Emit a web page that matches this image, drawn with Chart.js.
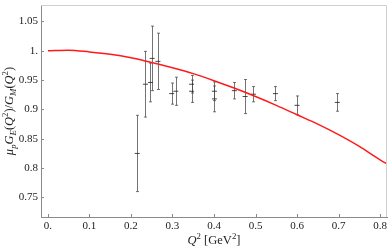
<!DOCTYPE html>
<html>
<head>
<meta charset="utf-8">
<script src="https://cdn.jsdelivr.net/npm/chart.js@4/dist/chart.umd.min.js"></script>
<style>
  html, body { margin: 0; padding: 0; background: #fff; }
  #wrap { width: 392px; height: 250px; }
</style>
</head>
<body>
<div id="wrap"><canvas id="ratioChart"></canvas></div>
<script>
// measured points (Q^2 in GeV^2, mu_p GE/GM, error)
const q2Values    = [0.215, 0.235, 0.247, 0.251, 0.265, 0.298, 0.308, 0.346, 0.346, 0.401, 0.401, 0.449, 0.475, 0.495, 0.548, 0.600, 0.697];
const ratioValues = [0.825, 0.943, 0.946, 0.987, 0.982, 0.927, 0.931, 0.943, 0.931, 0.931, 0.918, 0.932, 0.922, 0.926, 0.927, 0.907, 0.912];
const ratioErrors = [0.065, 0.056, 0.033, 0.055, 0.048, 0.018, 0.024, 0.015, 0.019, 0.016, 0.022, 0.014, 0.029, 0.013, 0.012, 0.016, 0.015];

// model curve
const curveQ2    = [0, 0.05, 0.1, 0.15, 0.2, 0.25, 0.3, 0.35, 0.4, 0.45, 0.5, 0.55, 0.6, 0.65, 0.7, 0.75, 0.8, 0.817];
const curveRatio = [1.000, 1.001, 0.998, 0.994, 0.988, 0.980, 0.971, 0.961, 0.949, 0.936, 0.922, 0.907, 0.891, 0.875, 0.857, 0.837, 0.814, 0.807];

// axis ticks
const xTickValues = [0, 0.1, 0.2, 0.3, 0.4, 0.5, 0.6, 0.7, 0.8];
const xTickLabels = ['0.', '0.1', '0.2', '0.3', '0.4', '0.5', '0.6', '0.7', '0.8'];
const yTickValues = [0.75, 0.8, 0.85, 0.9, 0.95, 1.0, 1.05];
const yTickLabels = ['0.75', '0.8', '0.85', '0.9', '0.95', '1.', '1.05'];

const serif = "'Liberation Serif', 'DejaVu Serif', serif";
const axisColor = '#8a8a8a';
const barColor = 'rgba(70,70,70,0.75)';

const yTitleParts = [
  { t: 'μ', i: true }, { t: 'p', i: true, s: 'sub' },
  { t: 'G', i: true }, { t: 'E', i: true, s: 'sub' },
  { t: '(' }, { t: 'Q', i: true }, { t: '2', s: 'sup' }, { t: ')/' },
  { t: 'G', i: true }, { t: 'M', i: true, s: 'sub' },
  { t: '(' }, { t: 'Q', i: true }, { t: '2', s: 'sup' }, { t: ')' }
];
const xTitleParts = [
  { t: 'Q', i: true }, { t: '2', s: 'sup' }, { t: ' [GeV' }, { t: '2', s: 'sup' }, { t: ']' }
];

function partFont(p, size) {
  const sz = p.s ? size * 0.7 : size;
  return (p.i ? 'italic ' : '') + sz + 'px ' + serif;
}

// draws text with sub/superscripts centred on (0,0) of the current transform
function drawRich(ctx, parts, size) {
  let total = 0;
  parts.forEach(p => { ctx.font = partFont(p, size); total += ctx.measureText(p.t).width; });
  let x = -total / 2;
  ctx.textBaseline = 'middle';
  ctx.textAlign = 'left';
  parts.forEach(p => {
    ctx.font = partFont(p, size);
    let dy = 0;
    if (p.s === 'sub') dy = size * 0.3;
    if (p.s === 'sup') dy = -size * 0.35;
    ctx.fillText(p.t, x, dy);
    x += ctx.measureText(p.t).width;
  });
}

const decorations = {
  id: 'decorations',
  beforeDatasetsDraw(chart) {
    const { ctx, scales: { x, y } } = chart;
    ctx.save();
    ctx.strokeStyle = barColor;
    ctx.lineWidth = 1;
    q2Values.forEach((q, i) => {
      const px = Math.round(x.getPixelForValue(q)) + 0.5;
      const top = y.getPixelForValue(ratioValues[i] + ratioErrors[i]);
      const bot = y.getPixelForValue(ratioValues[i] - ratioErrors[i]);
      ctx.beginPath();
      ctx.moveTo(px, top); ctx.lineTo(px, bot);
      ctx.moveTo(px - 1.5, top); ctx.lineTo(px + 1.5, top);
      ctx.moveTo(px - 1.5, bot); ctx.lineTo(px + 1.5, bot);
      ctx.stroke();
    });
    ctx.restore();
  },
  afterDraw(chart) {
    const { ctx, chartArea: a, scales: { x, y } } = chart;
    ctx.save();
    // light frame on top and right
    ctx.strokeStyle = '#d0d0d0';
    ctx.lineWidth = 1;
    ctx.beginPath();
    ctx.moveTo(a.left, a.top + 0.5); ctx.lineTo(a.right - 0.5, a.top + 0.5);
    ctx.lineTo(a.right - 0.5, a.bottom);
    ctx.stroke();
    // inward tick marks
    ctx.strokeStyle = axisColor;
    ctx.beginPath();
    xTickValues.forEach(v => {
      const px = Math.round(x.getPixelForValue(v)) + 0.5;
      ctx.moveTo(px, a.bottom); ctx.lineTo(px, a.bottom - 3);
    });
    yTickValues.forEach(v => {
      const py = Math.round(y.getPixelForValue(v)) + 0.5;
      ctx.moveTo(a.left, py); ctx.lineTo(a.left + 3, py);
    });
    ctx.stroke();
    // axis titles
    ctx.fillStyle = '#222';
    ctx.save();
    ctx.translate((a.left + a.right) / 2, 241);
    drawRich(ctx, xTitleParts, 12.5);
    ctx.restore();
    ctx.save();
    ctx.translate(10, (a.top + a.bottom) / 2);
    ctx.rotate(-Math.PI / 2);
    drawRich(ctx, yTitleParts, 12.5);
    ctx.restore();
    ctx.restore();
  }
};

new Chart(document.getElementById('ratioChart'), {
  type: 'scatter',
  data: {
    datasets: [
      {
        label: 'model',
        data: curveQ2.map((q, i) => ({ x: q, y: curveRatio[i] })),
        showLine: true,
        borderColor: '#ff1a1a',
        borderWidth: 1.5,
        pointRadius: 0,
        cubicInterpolationMode: 'monotone'
      },
      {
        label: 'data',
        data: q2Values.map((q, i) => ({ x: q, y: ratioValues[i] })),
        pointStyle: 'line',
        pointRadius: 2.5,
        borderColor: 'rgba(40,40,40,0.85)',
        borderWidth: 1
      }
    ]
  },
  options: {
    responsive: true,
    maintainAspectRatio: false,
    animation: false,
    layout: { padding: { top: 0, right: 1, left: 0, bottom: 0 } },
    plugins: { legend: { display: false }, tooltip: { enabled: false } },
    scales: {
      x: {
        type: 'linear',
        min: -0.0167,
        max: 0.8167,
        afterBuildTicks: s => { s.ticks = xTickValues.map(v => ({ value: v })); },
        afterFit: s => { s.height = 33; s.paddingLeft = 0; s.paddingRight = 0; },
        grid: { display: false, drawTicks: false },
        border: { display: true, color: axisColor, width: 1 },
        ticks: {
          padding: 3,
          color: '#222',
          font: { family: serif, size: 11 },
          maxRotation: 0,
          callback: (v) => xTickLabels[xTickValues.findIndex(t => Math.abs(t - v) < 1e-6)]
        }
      },
      y: {
        type: 'linear',
        min: 0.7167,
        max: 1.078,
        afterBuildTicks: s => { s.ticks = yTickValues.map(v => ({ value: v })); },
        afterFit: s => { s.width = 41; s.paddingTop = 0; s.paddingBottom = 0; },
        grid: { display: false, drawTicks: false },
        border: { display: true, color: axisColor, width: 1 },
        ticks: {
          padding: 3,
          color: '#222',
          font: { family: serif, size: 11 },
          callback: (v) => yTickLabels[yTickValues.findIndex(t => Math.abs(t - v) < 1e-6)]
        }
      }
    }
  },
  plugins: [decorations]
});
</script>
</body>
</html>
